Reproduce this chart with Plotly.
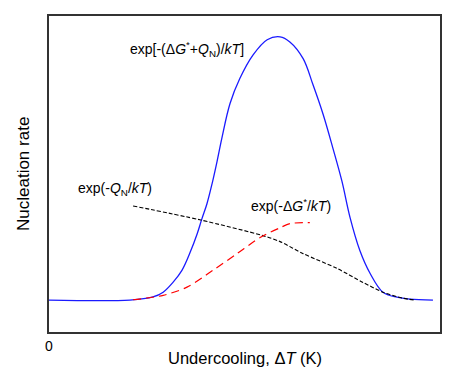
import plotly.graph_objects as go

# Undercooling (arbitrary units, 0..100) and nucleation rate (arbitrary units)
blue_x = [0, 20.7, 26.6, 29.2, 31.7, 34.0, 36.1, 37.9, 39.1, 40.4, 41.7, 43.0, 44.2, 46.3, 48.8,
          52.2, 55.8, 59.1, 61.6, 65.0, 67.5, 70.1, 72.6, 74.9, 77.0, 79.5, 82.1, 85.4, 89.0, 92.3, 98.2]
blue_y = [10.1, 10.1, 11.1, 12.6, 15.7, 19.5, 25.2, 31.1, 35.8, 40.6, 46.9, 54.1, 61.3, 72.3, 80.2,
          87.7, 92.5, 93.4, 91.8, 86.5, 78.3, 68.9, 58.2, 47.8, 36.2, 25.8, 18.6, 12.6, 11.0, 10.4, 10.1]

black_x = [21.5, 38.6, 54.7, 59.1, 65.0, 73.7, 80.3, 85.4, 90.5, 93.6]
black_y = [39.9, 35.5, 30.5, 28.6, 24.8, 20.1, 15.7, 12.6, 10.7, 10.1]

red_x = [21.5, 29.2, 35.3, 41.9, 48.1, 54.0, 59.1, 61.6, 66.7]
red_y = [10.2, 11.6, 14.2, 19.5, 24.8, 29.9, 33.0, 34.3, 34.6]

x_tick_vals = [0]
x_tick_text = ["0"]

FONT = "Liberation Sans, Arial, sans-serif"

fig = go.Figure()
fig.add_trace(go.Scatter(x=blue_x, y=blue_y, mode="lines",
                         line=dict(color="#1a1aff", width=1.3, shape="spline", smoothing=1.0),
                         showlegend=False, hoverinfo="skip"))
fig.add_trace(go.Scatter(x=black_x, y=black_y, mode="lines",
                         line=dict(color="#000000", width=1.1, dash="4px,2px", shape="spline", smoothing=0.8),
                         showlegend=False, hoverinfo="skip"))
fig.add_trace(go.Scatter(x=red_x, y=red_y, mode="lines",
                         line=dict(color="#ff0000", width=1.2, dash="8px,5px", shape="spline", smoothing=0.8),
                         showlegend=False, hoverinfo="skip"))

annotations = [
    dict(x=35.4, y=89.6, xref="x", yref="y", showarrow=False,
         text="exp[-(Δ<i>G</i><sup>*</sup>+<i>Q</i><sub>N</sub>)/<i>kT</i>]",
         font=dict(family=FONT, size=14, color="#000")),
    dict(x=16.9, y=45.3, xref="x", yref="y", showarrow=False,
         text="exp(-<i>Q</i><sub>N</sub>/<i>kT</i>)",
         font=dict(family=FONT, size=14, color="#000")),
    dict(x=61.9, y=40.3, xref="x", yref="y", showarrow=False,
         text="exp(-Δ<i>G</i><sup>*</sup>/<i>kT</i>)",
         font=dict(family=FONT, size=14, color="#000")),
    dict(x=0.5, y=0, xref="paper", yref="paper", showarrow=False,
         xanchor="center", yanchor="middle", yshift=-26,
         text="Undercooling, Δ<i>T</i> (K)",
         font=dict(family=FONT, size=16.5, color="#000")),
    dict(x=0, y=0.5, xref="paper", yref="paper", showarrow=False,
         xanchor="center", yanchor="middle", xshift=-26, textangle=-90,
         text="Nucleation rate",
         font=dict(family=FONT, size=17, color="#000")),
]

# The page body adds an 8px margin, so the figure is shrunk by 8px and margins shifted.
fig.update_layout(
    width=456, height=362,
    margin=dict(l=41, r=24, t=6, b=38),
    paper_bgcolor="white", plot_bgcolor="white",
    annotations=annotations,
    font=dict(family=FONT, size=13, color="#000"),
    xaxis=dict(range=[0, 100], showgrid=False, zeroline=False,
               showline=True, mirror=True, linecolor="#333", linewidth=2,
               tickvals=x_tick_vals, ticktext=x_tick_text, ticks="",
               tickfont=dict(family=FONT, size=14, color="#000")),
    yaxis=dict(range=[0, 100], showgrid=False, zeroline=False,
               showline=True, mirror=True, linecolor="#333", linewidth=2,
               showticklabels=False, ticks=""),
)

fig.write_html("out.html")
